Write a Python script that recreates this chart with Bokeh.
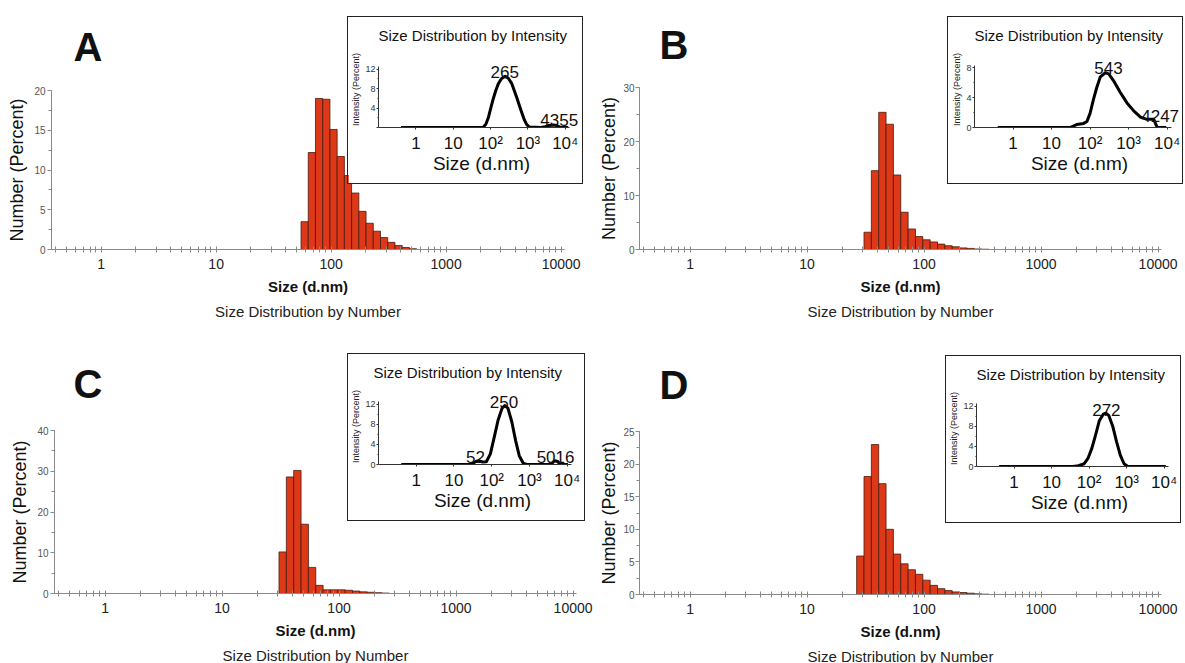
from bokeh.plotting import figure
from bokeh.layouts import row, column
from bokeh.models import FixedTicker, SingleIntervalTicker, Title, ColumnDataSource
from bokeh.embed import file_html
from bokeh.resources import INLINE
from bokeh.core.properties import value

FONT = "Liberation Sans"

# ---------------- data ----------------
# Size classes of the instrument (d.nm): 70 log-spaced classes between 0.4 and 10000 nm
CLASS_MIN, CLASS_MAX, N_CLASSES = 0.4, 10000.0, 70

panel_letters = ["A", "B", "C", "D"]

# Size distribution by number: index of the first non-empty class and the percentages
number_first_class = [34, 30, 30, 29]
number_A = [3.5, 12.2, 19.0, 18.9, 15.1, 11.7, 9.3, 7.1, 4.8, 3.3, 2.3, 1.5, 0.9, 0.5, 0.25, 0.1]
number_B = [3.2, 14.6, 25.4, 23.2, 13.8, 6.9, 3.8, 2.4, 1.8, 1.4, 1.0, 0.7, 0.5, 0.3, 0.2, 0.1, 0.05]
number_C = [10.2, 28.6, 30.2, 17.0, 6.4, 2.0, 0.9, 0.9, 0.9, 0.8, 0.6, 0.4, 0.3, 0.2, 0.1]
number_D = [5.9, 18.1, 23.0, 17.0, 10.0, 6.2, 4.7, 3.8, 3.1, 2.2, 1.4, 0.9, 0.6, 0.4, 0.3, 0.2, 0.1, 0.05]
number_ymax = [20, 30, 40, 25]
number_ystep = [5, 10, 10, 5]
x_tick_values = [1, 10, 100, 1000, 10000]
x_tick_labels = ["1", "10", "100", "1000", "10000"]

# Size distribution by intensity (insets)
int_size_A = [0.4, 50, 63, 75, 87, 100, 117, 138, 162, 195, 245, 300, 370, 430, 500, 590, 690, 800, 930,
              1100, 2200, 2900, 3700, 4800, 5900, 7000, 8000, 12000]
int_val_A = [0, 0, 0, 0.7, 2.0, 3.8, 5.8, 7.6, 9.0, 10.0, 10.5, 10.1, 9.0, 7.6, 6.2, 4.5, 3.0, 1.6, 0.6,
             0.1, 0, 0.15, 0.4, 0.5, 0.4, 0.1, 0, 0]
int_size_B = [0.4, 30, 45, 68, 83, 100, 123, 150, 185, 250, 305, 405, 610, 910, 1380, 2040, 3000, 4500,
              5100, 5600, 9500]
int_val_B = [0, 0, 0.4, 0.55, 0.8, 1.9, 3.8, 5.4, 6.8, 7.35, 7.2, 6.3, 4.7, 3.3, 2.2, 1.4, 1.1, 1.1,
             0.4, 0, 0]
int_size_C = [0.4, 28, 38, 45, 57, 72, 92, 117, 147, 188, 222, 268, 340, 428, 535, 690, 870, 3650, 4650,
              5600, 6500, 10500]
int_val_C = [0, 0, 0.6, 0.75, 0.5, 0.55, 2.1, 5.5, 8.8, 11.2, 11.7, 11.2, 8.5, 4.8, 1.75, 0.2, 0, 0, 0.75,
             0.6, 0, 0]
int_size_D = [0.4, 37, 52, 74, 93, 118, 149, 187, 238, 280, 336, 425, 535, 676, 850, 1070, 11000]
int_val_D = [0, 0, 0.15, 0.55, 1.6, 3.6, 6.3, 9.1, 10.4, 10.6, 10.1, 8.0, 5.0, 2.25, 0.55, 0, 0]

peak_text_A = ["265", "4355"]
peak_x_A = [240, 6900]
peak_y_A = [11.3, 1.5]
peak_text_B = ["543", "4247"]
peak_x_B = [300, 6600]
peak_y_B = [8.0, 1.6]
peak_text_C = ["52", "250", "5016"]
peak_x_C = [37, 210, 4900]
peak_y_C = [1.4, 12.4, 1.4]
peak_text_D = ["272"]
peak_x_D = [288]
peak_y_D = [11.3]

int_yticks = [[0, 4, 8, 12], [0, 4, 8], [0, 4, 8, 12], [0, 4, 8, 12]]
int_tick_labels = ["1", "10", "10\u00b2", "10\u00b3", "10\u2074"]

# ---------------- styling / layout ----------------
X_MIN, X_MAX = 0.37, 10700
IX_MIN, IX_AXIS_END = 0.1, 12900
IX_MAX = [32700, 28300, 32400, 30700]
BAR_FILL = "#DD3818"
BAR_LINE = "#4a1a0e"

# main panels: frame w, frame h, border l, r, t, b, letter standoff, letter offset,
#              y label standoff, y axis-label standoff
main_geo = [
    (513, 159, 51, 32, 89, 74, 44, 22, 2, 4),
    (522, 162, 39, 27, 86, 74, 41, 20, 1, 1),
    (522, 163, 54, 20, 107, 70, 49, 19, 2, 4),
    (522, 163, 39, 27, 108, 69, 50, 20, 1, 1),
]
# inset box position inside its panel: left, top (box is 236 x 168 incl. its 1px border)
box_pos = [(347, 15), (351, 15), (347, 27), (349, 28)]
BOX_W, BOX_H = 234, 166
# inset plot frame inside the box: border left, top, frame w, frame h
inset_geo = [(30, 34, 204, 74), (26, 34, 208, 74), (28, 34, 206, 74), (30, 34, 204, 74)]
inset_yframe = [15.6, 10.2, 15.1, 15.1]
inset_title_offset = [0, 0, -5, 0]


def main_panel(i, vals):
    fw, fh, bl, br, bt, bb, lstand, loff, ylst, yalst = main_geo[i]
    ratio = (CLASS_MAX / CLASS_MIN) ** (1.0 / N_CLASSES)
    k0 = number_first_class[i]
    lefts = [CLASS_MIN * ratio ** (k0 + j) for j in range(len(vals))]
    rights = [CLASS_MIN * ratio ** (k0 + j + 1) for j in range(len(vals))]
    src = ColumnDataSource(dict(left=lefts, right=rights, top=vals))

    p = figure(x_axis_type="log", x_range=(X_MIN, X_MAX), y_range=(0, number_ymax[i]),
               frame_width=fw, frame_height=fh, min_border_left=bl, min_border_right=br,
               min_border_top=bt, min_border_bottom=bb, toolbar_location=None,
               output_backend="svg", background_fill_color="white", border_fill_color="white")
    p.outline_line_color = None
    p.xgrid.visible = False
    p.ygrid.visible = False

    p.quad(left="left", right="right", top="top", bottom=0, source=src,
           fill_color=BAR_FILL, line_color=BAR_LINE, line_width=0.8)

    minor = []
    for dec in [0.1, 1, 10, 100, 1000]:
        for m in range(2, 10):
            v = m * dec
            if X_MIN <= v <= X_MAX:
                minor.append(v)
    xa = p.xaxis[0]
    xa.ticker = FixedTicker(ticks=x_tick_values, minor_ticks=minor)
    xa.major_label_overrides = {t: s for t, s in zip(x_tick_values, x_tick_labels)}
    xa.axis_line_color = "#8a8a8a"
    xa.major_tick_line_color = "#8a8a8a"
    xa.minor_tick_line_color = "#8a8a8a"
    xa.major_tick_in = 3
    xa.major_tick_out = 3
    xa.minor_tick_in = 3
    xa.minor_tick_out = 3
    xa.major_label_text_font = FONT
    xa.major_label_text_font_size = "14px"
    xa.major_label_text_color = "#222222"
    xa.major_label_standoff = 6
    xa.axis_label = "Size (d.nm)"
    xa.axis_label_text_font = FONT
    xa.axis_label_text_font_size = "15px"
    xa.axis_label_text_font_style = "bold"
    xa.axis_label_text_color = "#111111"
    xa.axis_label_standoff = 6

    ya = p.yaxis[0]
    ya.ticker = SingleIntervalTicker(interval=number_ystep[i], num_minor_ticks=2)
    ya.axis_line_color = "#8a8a8a"
    ya.major_tick_line_color = "#8a8a8a"
    ya.minor_tick_line_color = "#8a8a8a"
    ya.major_tick_in = 0
    ya.major_tick_out = 4
    ya.minor_tick_in = 0
    ya.minor_tick_out = 3
    ya.major_label_text_font = FONT
    ya.major_label_text_font_size = "10px"
    ya.major_label_text_color = "#555555"
    ya.major_label_standoff = ylst
    ya.axis_label = "Number (Percent)"
    ya.axis_label_text_font = FONT
    ya.axis_label_text_font_size = "18px"
    ya.axis_label_text_font_style = "normal"
    ya.axis_label_text_color = "#111111"
    ya.axis_label_standoff = yalst

    p.title.text = panel_letters[i]
    p.title.align = "left"
    p.title.offset = loff
    p.title.standoff = lstand
    p.title.text_font = FONT
    p.title.text_font_size = "40px"
    p.title.text_font_style = "bold"
    p.title.text_color = "#111111"

    p.add_layout(Title(text="Size Distribution by Number", align="center", text_font=FONT,
                       text_font_size="15px", text_font_style="normal", text_color="#222222",
                       standoff=6), "below")
    return p, bt + fh + bb


def inset_panel(i, sizes, vals, ptext, px, py, panel_h):
    bl, bt, fw, fh = inset_geo[i]
    bx, by = box_pos[i]
    outer_h = BOX_H + 2
    q = figure(x_axis_type="log", x_range=(IX_MIN, IX_MAX[i]), y_range=(0, inset_yframe[i]),
               frame_width=fw, frame_height=fh, min_border_left=bl,
               min_border_right=BOX_W - bl - fw, min_border_top=bt,
               min_border_bottom=BOX_H - bt - fh, toolbar_location=None,
               output_backend="svg", background_fill_color="white", border_fill_color="white",
               styles={"border": "1px solid #222222"})
    q.outline_line_color = None
    q.xgrid.visible = False
    q.ygrid.visible = False

    q.line(sizes, vals, line_color="black", line_width=3, line_join="round")
    q.text(x=px, y=py, text=ptext, text_align="center", text_baseline="alphabetic",
           text_font=value(FONT), text_font_size="17px", text_color="#111111")

    xa = q.xaxis[0]
    xa.ticker = FixedTicker(ticks=x_tick_values, minor_ticks=[])
    xa.bounds = (IX_MIN, IX_AXIS_END)
    xa.major_label_overrides = {t: s for t, s in zip(x_tick_values, int_tick_labels)}
    xa.axis_line_color = "#333333"
    xa.major_tick_line_color = "#333333"
    xa.major_tick_in = 0
    xa.major_tick_out = 2
    xa.major_label_text_font = FONT
    xa.major_label_text_font_size = "17px"
    xa.major_label_text_color = "#111111"
    xa.major_label_standoff = 4
    xa.axis_label = "Size (d.nm)"
    xa.axis_label_text_font = FONT
    xa.axis_label_text_font_size = "19px"
    xa.axis_label_text_font_style = "normal"
    xa.axis_label_text_color = "#111111"
    xa.axis_label_standoff = -3

    yt = int_yticks[i]
    ya = q.yaxis[0]
    ya.ticker = FixedTicker(ticks=yt, minor_ticks=[t + 2 for t in yt[:-1]])
    ya.bounds = (0, yt[-1] * 1.04)
    if i == 0:
        ya.major_label_overrides = {0: ""}
    ya.axis_line_color = "#333333"
    ya.major_tick_line_color = "#333333"
    ya.minor_tick_line_color = "#333333"
    ya.major_tick_in = 0
    ya.major_tick_out = 2
    ya.minor_tick_in = 0
    ya.minor_tick_out = 1
    ya.major_label_text_font = FONT
    ya.major_label_text_font_size = "9px"
    ya.major_label_text_color = "#333333"
    ya.major_label_standoff = 1
    ya.axis_label = "Intensity (Percent)"
    ya.axis_label_text_font = FONT
    ya.axis_label_text_font_size = "9px"
    ya.axis_label_text_font_style = "normal"
    ya.axis_label_text_color = "#222222"
    ya.axis_label_standoff = 1

    q.title.text = "Size Distribution by Intensity"
    q.title.align = "left"
    q.title.offset = inset_title_offset[i]
    q.title.standoff = 15
    q.title.text_font = FONT
    q.title.text_font_size = "15px"
    q.title.text_font_style = "normal"
    q.title.text_color = "#111111"

    # wrapper (not a plot) carries the placement over the main panel
    wrap = column(q, spacing=0, margin=(by - panel_h, 0, panel_h - by - outer_h, bx))
    return wrap


numbers = [number_A, number_B, number_C, number_D]
int_sizes = [int_size_A, int_size_B, int_size_C, int_size_D]
int_vals = [int_val_A, int_val_B, int_val_C, int_val_D]
peak_texts = [peak_text_A, peak_text_B, peak_text_C, peak_text_D]
peak_xs = [peak_x_A, peak_x_B, peak_x_C, peak_x_D]
peak_ys = [peak_y_A, peak_y_B, peak_y_C, peak_y_D]

panels = []
for i in range(4):
    main, ph = main_panel(i, numbers[i])
    ins = inset_panel(i, int_sizes[i], int_vals[i], peak_texts[i], peak_xs[i], peak_ys[i], ph)
    panels.append(column(main, ins, spacing=0))

layout = column(row(panels[0], panels[1], spacing=0), row(panels[2], panels[3], spacing=0), spacing=0)

open("out.html", "w").write(file_html(layout, INLINE))
